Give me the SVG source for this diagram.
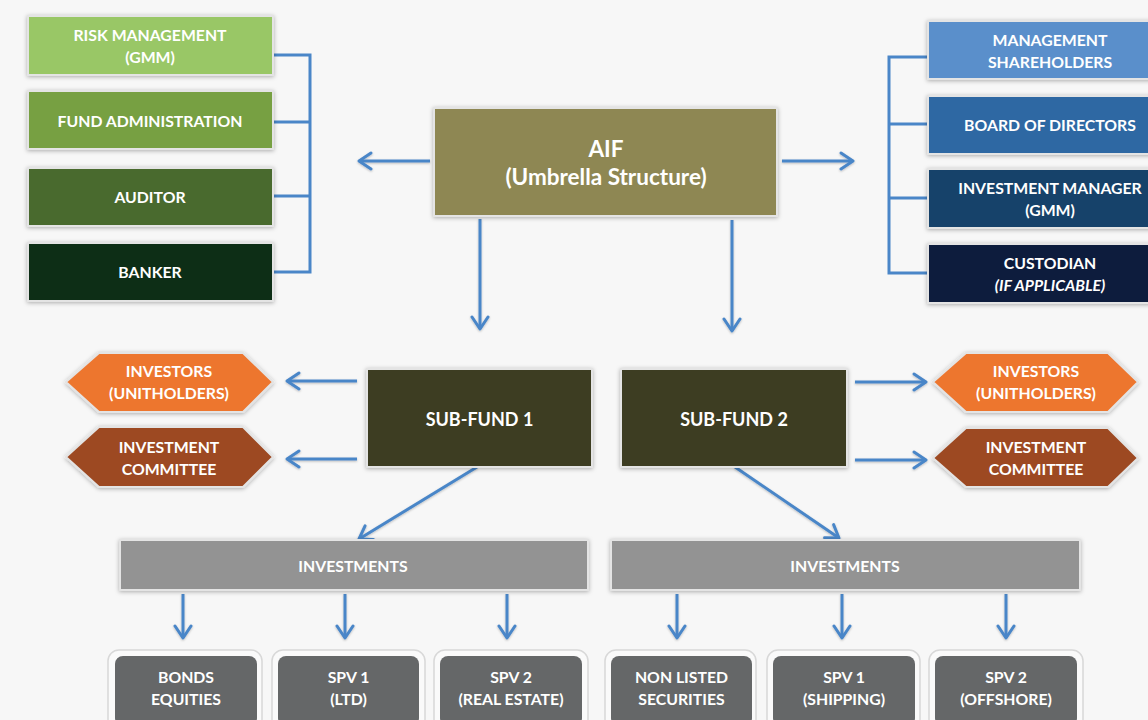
<svg xmlns="http://www.w3.org/2000/svg" width="1148" height="720" viewBox="0 0 1148 720">
<defs>
<filter id="sh" x="-10%" y="-20%" width="120%" height="140%">
<feDropShadow dx="0" dy="1" stdDeviation="2" flood-color="#000" flood-opacity="0.3"/>
</filter>
<filter id="ash" filterUnits="userSpaceOnUse" x="0" y="0" width="1148" height="720">
<feDropShadow dx="0" dy="1" stdDeviation="1.2" flood-color="#000" flood-opacity="0.25"/>
</filter>
<marker id="ah" viewBox="0 0 16 20" refX="14" refY="10" markerWidth="16" markerHeight="20" markerUnits="userSpaceOnUse" orient="auto">
<path d="M2,2 L14,10 L2,18" fill="none" stroke="#4a86c8" stroke-width="3" stroke-linecap="round" stroke-linejoin="round"/>
</marker>
<style>
.box{stroke:#e4e4e4;stroke-width:2;filter:url(#sh)}
.t{font-family:Lato,'Open Sans',sans-serif;font-weight:bold;fill:#fff;text-anchor:middle;font-size:15.8px}
.ln{fill:none;stroke:#4a86c8;stroke-width:3}
.ar{fill:none;stroke:#4a86c8;stroke-width:3;marker-end:url(#ah);filter:url(#ash)}
.outer{fill:#fafafa;stroke:#d8d8d8;stroke-width:1.5}
.inner{fill:#656768}
</style>
</defs>
<rect width="1148" height="720" fill="#f7f7f7"/>

<g id="connectors">
<path class="ln" d="M274,55 H310 V272 H274 M274,122 H310 M274,196 H310"/>
<path class="ln" d="M928,57 H889 V273 H928 M928,124 H889 M928,198 H889"/>
<line class="ar" x1="430" y1="161" x2="359" y2="161"/>
<line class="ar" x1="782" y1="161" x2="853" y2="161"/>
<line class="ar" x1="480" y1="219" x2="480" y2="329"/>
<line class="ar" x1="732" y1="220" x2="732" y2="331"/>
<line class="ar" x1="357" y1="381" x2="287" y2="381"/>
<line class="ar" x1="357" y1="459" x2="287" y2="459"/>
<line class="ar" x1="855" y1="382" x2="926" y2="382"/>
<line class="ar" x1="855" y1="460" x2="926" y2="460"/>
<line class="ar" x1="477" y1="467" x2="359" y2="539"/>
<line class="ar" x1="735" y1="467" x2="839" y2="538"/>
<line class="ar" x1="183" y1="594" x2="183" y2="638"/>
<line class="ar" x1="345" y1="594" x2="345" y2="638"/>
<line class="ar" x1="507" y1="594" x2="507" y2="638"/>
<line class="ar" x1="677" y1="594" x2="677" y2="638"/>
<line class="ar" x1="842" y1="594" x2="842" y2="638"/>
<line class="ar" x1="1006" y1="594" x2="1006" y2="638"/>
</g>

<g id="risk-management">
<rect class="box" x="28" y="16" width="245" height="59" fill="#99c766"/>
<text class="t" x="150" y="41">RISK MANAGEMENT</text>
<text class="t" x="150" y="63">(GMM)</text>
</g>
<g id="fund-administration">
<rect class="box" x="28" y="91" width="245" height="58" fill="#77a043"/>
<text class="t" x="150" y="127">FUND ADMINISTRATION</text>
</g>
<g id="auditor">
<rect class="box" x="28" y="168" width="245" height="58" fill="#4a6a2f"/>
<text class="t" x="150" y="203">AUDITOR</text>
</g>
<g id="banker">
<rect class="box" x="28" y="243" width="245" height="58" fill="#112d18"/>
<text class="t" x="150" y="278">BANKER</text>
</g>

<g id="management-shareholders">
<rect class="box" x="928" y="21" width="244" height="58" fill="#5a8fcb"/>
<text class="t" x="1050" y="46">MANAGEMENT</text>
<text class="t" x="1050" y="68">SHAREHOLDERS</text>
</g>
<g id="board-of-directors">
<rect class="box" x="928" y="96" width="244" height="58" fill="#2e68a3"/>
<text class="t" x="1050" y="131">BOARD OF DIRECTORS</text>
</g>
<g id="investment-manager">
<rect class="box" x="928" y="169" width="244" height="59" fill="#17436a"/>
<text class="t" x="1050" y="194">INVESTMENT MANAGER</text>
<text class="t" x="1050" y="216">(GMM)</text>
</g>
<g id="custodian">
<rect class="box" x="928" y="244" width="244" height="59" fill="#0c1e3d"/>
<text class="t" x="1050" y="269">CUSTODIAN</text>
<text class="t" x="1050" y="291" font-style="italic">(IF APPLICABLE)</text>
</g>

<g id="aif">
<rect class="box" x="434" y="108" width="343" height="108" fill="#8e8752"/>
<text class="t" x="606" y="157" style="font-size:22.5px">AIF</text>
<text class="t" x="606" y="185" style="font-size:22.5px">(Umbrella Structure)</text>
</g>

<g id="sub-fund-1">
<rect class="box" x="367" y="369" width="225" height="98" fill="#3e3d20"/>
<text class="t" x="479.5" y="426" style="font-size:18px">SUB-FUND 1</text>
</g>
<g id="sub-fund-2">
<rect class="box" x="621" y="369" width="226" height="98" fill="#3e3d20"/>
<text class="t" x="734" y="426" style="font-size:18px">SUB-FUND 2</text>
</g>

<g id="investors-left">
<polygon class="box" points="66,382 99,353 243,353 273,382 243,412 99,412" fill="#ed762f"/>
<text class="t" x="169" y="377">INVESTORS</text>
<text class="t" x="169" y="399">(UNITHOLDERS)</text>
</g>
<g id="committee-left">
<polygon class="box" points="66,457 99,427 243,427 273,457 243,487 99,487" fill="#9d4922"/>
<text class="t" x="169" y="453">INVESTMENT</text>
<text class="t" x="169" y="475">COMMITTEE</text>
</g>
<g id="investors-right">
<polygon class="box" points="933,382 966,353 1108,353 1138,382 1108,412 966,412" fill="#ed762f"/>
<text class="t" x="1036" y="377">INVESTORS</text>
<text class="t" x="1036" y="399">(UNITHOLDERS)</text>
</g>
<g id="committee-right">
<polygon class="box" points="933,458 966,428 1108,428 1138,458 1108,487 966,487" fill="#9d4922"/>
<text class="t" x="1036" y="453">INVESTMENT</text>
<text class="t" x="1036" y="475">COMMITTEE</text>
</g>

<g id="investments-1">
<rect class="box" x="120" y="540" width="468" height="50" fill="#939393"/>
<text class="t" x="353" y="572">INVESTMENTS</text>
</g>
<g id="investments-2">
<rect class="box" x="611" y="540" width="469" height="50" fill="#939393"/>
<text class="t" x="845" y="572">INVESTMENTS</text>
</g>

<g id="bonds-equities">
<rect class="outer" x="108" y="650" width="154" height="80" rx="11"/>
<rect class="inner" x="115" y="656" width="142" height="70" rx="8"/>
<text class="t" x="186" y="683">BONDS</text>
<text class="t" x="186" y="705">EQUITIES</text>
</g>
<g id="spv1-ltd">
<rect class="outer" x="272" y="650" width="153" height="80" rx="11"/>
<rect class="inner" x="278" y="656" width="141" height="70" rx="8"/>
<text class="t" x="348.5" y="683">SPV 1</text>
<text class="t" x="348.5" y="705">(LTD)</text>
</g>
<g id="spv2-real-estate">
<rect class="outer" x="434" y="650" width="154" height="80" rx="11"/>
<rect class="inner" x="440" y="656" width="142" height="70" rx="8"/>
<text class="t" x="511" y="683">SPV 2</text>
<text class="t" x="511" y="705">(REAL ESTATE)</text>
</g>
<g id="non-listed-securities">
<rect class="outer" x="605" y="650" width="151" height="80" rx="11"/>
<rect class="inner" x="611" y="656" width="141" height="70" rx="8"/>
<text class="t" x="681.5" y="683">NON LISTED</text>
<text class="t" x="681.5" y="705">SECURITIES</text>
</g>
<g id="spv1-shipping">
<rect class="outer" x="767" y="650" width="153" height="80" rx="11"/>
<rect class="inner" x="773" y="656" width="142" height="70" rx="8"/>
<text class="t" x="844" y="683">SPV 1</text>
<text class="t" x="844" y="705">(SHIPPING)</text>
</g>
<g id="spv2-offshore">
<rect class="outer" x="929" y="650" width="154" height="80" rx="11"/>
<rect class="inner" x="935" y="656" width="142" height="70" rx="8"/>
<text class="t" x="1006" y="683">SPV 2</text>
<text class="t" x="1006" y="705">(OFFSHORE)</text>
</g>
</svg>
